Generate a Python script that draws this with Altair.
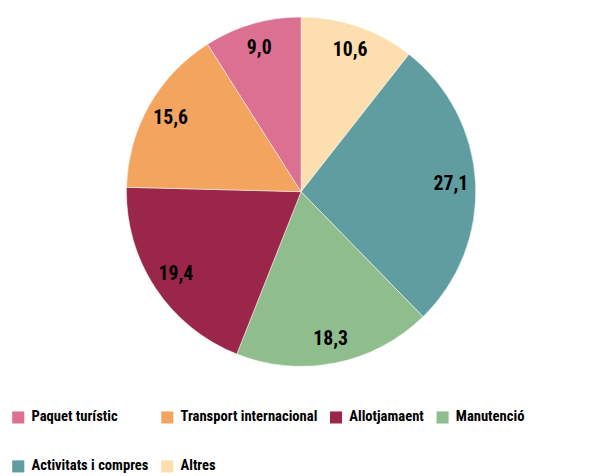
import altair as alt
import pandas as pd

categories = ["Altres", "Activitats i compres", "Manutenció", "Allotjamaent",
              "Transport internacional", "Paquet turístic"]
values = [10.6, 27.1, 18.3, 19.4, 15.6, 9.0]
labels = ["10,6", "27,1", "18,3", "19,4", "15,6", "9,0"]
legend_order = ["Paquet turístic", "Transport internacional", "Allotjamaent",
                "Manutenció", "Activitats i compres", "Altres"]
colors = ["#DC7093", "#F3A560", "#9A2649", "#8FBD8D", "#5F9DA0", "#FDDEAE"]

df = pd.DataFrame({"cat": categories, "val": values, "lab": labels,
                   "ord": list(range(len(categories)))})

FONT = "Roboto Condensed, Liberation Sans Narrow, Roboto, sans-serif"
CX, CY, R = 297, 183, 177

base = alt.Chart(df).encode(
    theta=alt.Theta("val:Q", stack=True),
    order=alt.Order("ord:Q", sort="ascending"),
)

pie = base.mark_arc(radius=R, stroke="white", strokeWidth=0.5).encode(
    x=alt.value(CX), y=alt.value(CY),
    color=alt.Color("cat:N", scale=alt.Scale(domain=legend_order, range=colors),
                    legend=alt.Legend(
                        title=None, orient="none", legendX=3, legendY=404,
                        direction="horizontal", columns=4,
                        symbolType="square", symbolSize=150, symbolStrokeWidth=0,
                        labelFont=FONT, labelFontSize=14.8, labelFontWeight="bold",
                        labelColor="black", labelLimit=300,
                        columnPadding=11, rowPadding=34, labelOffset=6)),
)

text = base.mark_text(radius=152, font=FONT, fontSize=20, fontWeight="bold",
                      color="black").encode(
    x=alt.value(CX), y=alt.value(CY),
    text="lab:N",
)

chart = (pie + text).properties(
    width=606, height=468,
    autosize=alt.AutoSizeParams(type="none"),
    padding=0,
).configure_view(stroke=None)

chart.save("out.html", embed_options={"renderer": "svg", "actions": False})
